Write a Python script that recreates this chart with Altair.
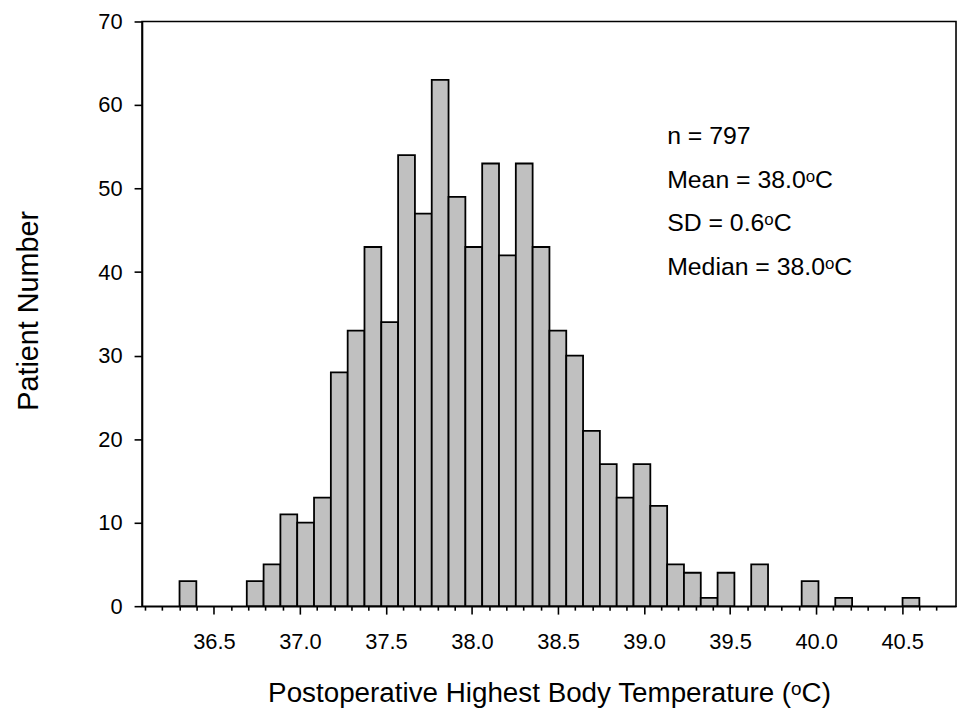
import altair as alt
import pandas as pd

# ---- data ----
BIN_LOW = 36.3          # left edge of first bin (deg C)
BIN_HIGH = 40.6         # right edge of last bin (deg C)
patient_counts = [3, 0, 0, 0,
                  3, 5, 11, 10, 13, 28, 33, 43, 34, 54, 47, 63, 49, 43, 53, 42,
                  53, 43, 33, 30, 21, 17, 13, 17, 12, 5, 4, 1, 4,
                  0, 5, 0, 0, 3, 0, 1, 0, 0, 0, 1]

x_major_labels = [36.5, 37.0, 37.5, 38.0, 38.5, 39.0, 39.5, 40.0, 40.5]
x_minor_ticks = [round(36.1 + 0.1 * k, 1) for k in range(47)]
y_ticks = [0, 10, 20, 30, 40, 50, 60, 70]
x_domain = [36.082, 40.813]
y_domain = [0, 70]

stats_lines = ["n = 797", "Mean = 38.0\u1d52C", "SD = 0.6\u1d52C", "Median = 38.0\u1d52C"]
x_title = "Postoperative Highest Body Temperature (\u1d52C)"
y_title = "Patient Number"

FONT = "Liberation Sans, Arial, DejaVu Sans, sans-serif"

n_bins = len(patient_counts)
bw = (BIN_HIGH - BIN_LOW) / n_bins
df = pd.DataFrame({
    "start": [BIN_LOW + i * bw for i in range(n_bins)],
    "count": patient_counts,
})
df["end"] = df["start"] + bw
df = df[df["count"] > 0]

PLOT_W, PLOT_H = 820, 589

major_test = "abs(datum.value*2 - round(datum.value*2)) < 0.001"

x_axis = alt.Axis(
    values=x_minor_ticks,
    labelExpr=f"{major_test} ? format(datum.value, '.1f') : ''",
    tickSize={"condition": {"test": major_test, "value": 8}, "value": 4},
    labelPadding=18,
    labelFontSize=22,
    labelFont=FONT,
    labelColor="black",
    labelOverlap=False,
    labelFlush=False,
    labelBaseline="top",
    title=x_title,
    titleFont=FONT,
    titleFontSize=28,
    titleFontWeight="normal",
    titleColor="black",
    titleX=PLOT_W / 2,
    titleY=96,
    titleAlign="center",
    titleBaseline="alphabetic",
    grid=False,
)

y_axis = alt.Axis(
    values=y_ticks,
    tickSize=8,
    labelPadding=12,
    labelFontSize=22,
    labelFont=FONT,
    labelColor="black",
    title=y_title,
    titleFont=FONT,
    titleFontSize=29,
    titleFontWeight="normal",
    titleColor="black",
    titleAngle=270,
    titleX=-114,
    titleY=291,
    titleAlign="center",
    titleBaseline="middle",
    grid=False,
)

bars = alt.Chart(df).mark_bar(
    color="#c0c0c0", stroke="black", strokeWidth=1.8
).encode(
    x=alt.X("start:Q", scale=alt.Scale(domain=x_domain, nice=False, zero=False), axis=x_axis),
    x2="end:Q",
    y=alt.Y("count:Q", scale=alt.Scale(domain=y_domain, nice=False), axis=y_axis),
    y2=alt.datum(0),
)

ann = alt.Chart(pd.DataFrame({"k": [0]})).mark_text(
    text=stats_lines, align="left", baseline="middle", lineHeight=44,
    fontSize=25, font=FONT, color="black",
).encode(x=alt.value(529), y=alt.value(115.5))

chart = alt.layer(bars, ann).properties(
    width=PLOT_W, height=PLOT_H,
    autosize=alt.AutoSizeParams(type="none"),
    padding={"left": 135, "top": 11, "right": 2, "bottom": 102},
).configure_view(
    stroke="black", strokeWidth=1.6
).configure_axis(
    domainColor="black", domainWidth=1.6, tickColor="black", tickWidth=1.6,
)

chart.save("out.html", embed_options={"renderer": "svg", "actions": False})
